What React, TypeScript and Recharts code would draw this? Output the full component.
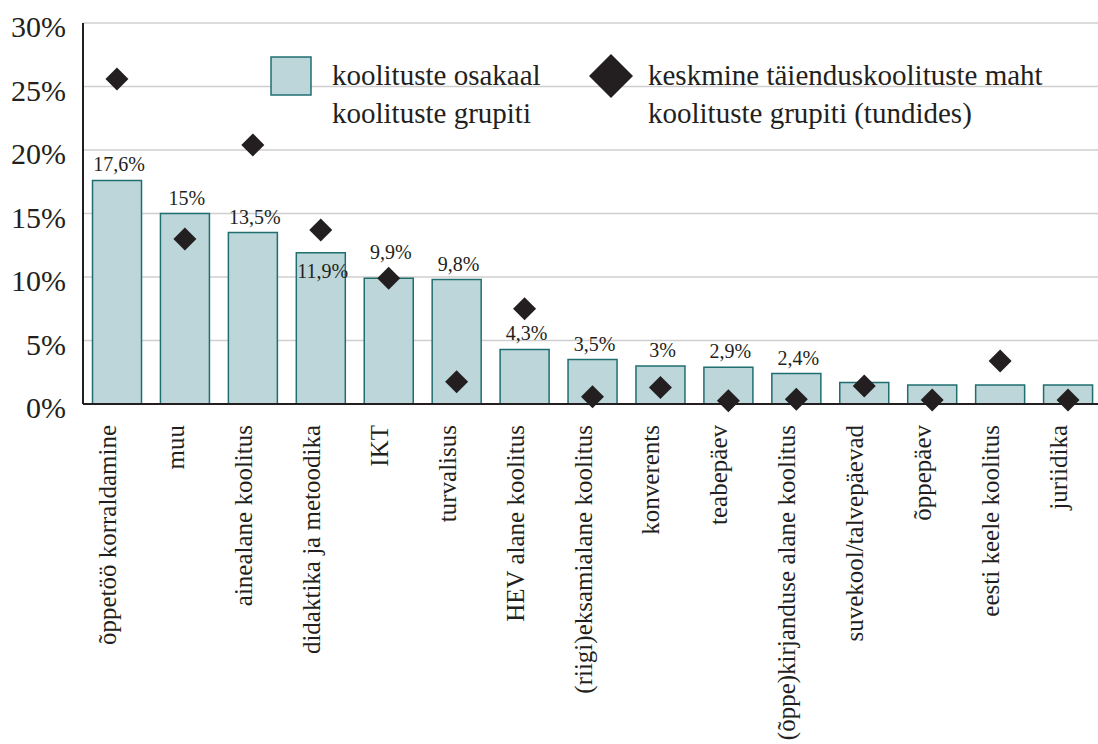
import React from "react";
import {
  ComposedChart,
  Bar,
  Scatter,
  XAxis,
  YAxis,
  CartesianGrid,
  LabelList,
} from "recharts";

const categories = [
  "õppetöö korraldamine",
  "muu",
  "ainealane koolitus",
  "didaktika ja metoodika",
  "IKT",
  "turvalisus",
  "HEV alane koolitus",
  "(riigi)eksamialane koolitus",
  "konverents",
  "teabepäev",
  "(õppe)kirjanduse alane koolitus",
  "suvekool/talvepäevad",
  "õppepäev",
  "eesti keele koolitus",
  "juriidika",
];

const shareValues = [17.6, 15, 13.5, 11.9, 9.9, 9.8, 4.3, 3.5, 3, 2.9, 2.4, 1.7, 1.5, 1.5, 1.5];
const hoursValues = [25.6, 13.0, 20.4, 13.7, 9.9, 1.75, 7.5, 0.57, 1.3, 0.26, 0.37, 1.42, 0.31, 3.38, 0.31];
const shareLabels = [
  "17,6%", "15%", "13,5%", "11,9%", "9,9%", "9,8%", "4,3%", "3,5%", "3%", "2,9%", "2,4%", "", "", "", "",
];
const yTicks = [0, 5, 10, 15, 20, 25, 30];

const legendShare = ["koolituste osakaal", "koolituste grupiti"];
const legendHours = ["keskmine täienduskoolituste maht", "koolituste grupiti (tundides)"];

const data = categories.map((name, i) => ({
  name,
  share: shareValues[i],
  hours: hoursValues[i],
  label: shareLabels[i],
}));

const FONT = "'Liberation Serif', 'DejaVu Serif', serif";
const INK = "#231f20";
const BAR_FILL = "#bdd6d9";
const BAR_STROKE = "#1f6e70";
const GRID = "#cfcfcf";

// label vertical nudges (style only), keyed by category
const LABEL_NUDGE: Record<string, number> = {
  "didaktika ja metoodika": 34,
  IKT: -10,
};

const Diamond = (props: any) => {
  const { cx, cy } = props;
  if (cx == null || cy == null) return null;
  const r = 11.5;
  return (
    <polygon
      points={`${cx},${cy - r} ${cx + r},${cy} ${cx},${cy + r} ${cx - r},${cy}`}
      fill={INK}
    />
  );
};

const YTick = (props: any) => {
  const { x, y, payload } = props;
  return (
    <text x={x} y={y + 14} textAnchor="end" fontFamily={FONT} fontSize={30} fill={INK}>
      {`${payload.value}%`}
    </text>
  );
};

const XTick = (props: any) => {
  const { x, y, payload } = props;
  return (
    <g transform={`translate(${x - 1},${y})`}>
      <text
        x={0}
        y={0}
        transform="rotate(-90)"
        textAnchor="end"
        fontFamily={FONT}
        fontSize={25}
        fill={INK}
      >
        {payload.value}
      </text>
    </g>
  );
};

const BarLabel = (props: any) => {
  const { x, y, width, value, index } = props;
  if (!value) return null;
  const name = categories[index];
  const nudge = LABEL_NUDGE[name] ?? 0;
  return (
    <text
      x={x + width / 2 + 2}
      y={y - 9 + nudge}
      textAnchor="middle"
      fontFamily={FONT}
      fontSize={20}
      fill={INK}
    >
      {value}
    </text>
  );
};

export default function App() {
  return (
    <div
      style={{
        position: "fixed",
        left: 0,
        top: 0,
        width: 1098,
        height: 744,
        overflow: "hidden",
        background: "#ffffff",
      }}
    >
      <ComposedChart
        width={1102}
        height={744}
        data={data}
        margin={{ top: 23, right: 0, bottom: 0, left: 0 }}
        barCategoryGap="14%"
      >
        <CartesianGrid vertical={false} stroke={GRID} strokeWidth={1.5} />
        <XAxis
          dataKey="name"
          type="category"
          interval={0}
          height={340}
          tickSize={0}
          tickMargin={21}
          tickLine={false}
          axisLine={{ stroke: INK, strokeWidth: 2 }}
          tick={<XTick />}
        />
        <YAxis
          type="number"
          domain={[0, 30]}
          ticks={yTicks}
          width={83}
          tickSize={0}
          tickMargin={17}
          tickLine={false}
          axisLine={{ stroke: INK, strokeWidth: 2 }}
          tick={<YTick />}
          interval={0}
        />
        <Bar
          dataKey="share"
          fill={BAR_FILL}
          stroke={BAR_STROKE}
          strokeWidth={1.5}
          isAnimationActive={false}
        >
          <LabelList dataKey="label" content={<BarLabel />} />
        </Bar>
        <Scatter dataKey="hours" shape={<Diamond />} isAnimationActive={false} />
      </ComposedChart>
      <svg
        width={1098}
        height={160}
        style={{ position: "absolute", left: 0, top: 0, pointerEvents: "none" }}
      >
        <rect x={271} y={57} width={40} height={38} fill={BAR_FILL} stroke={BAR_STROKE} strokeWidth={1.5} />
        {legendShare.map((t, i) => (
          <text key={t} x={332} y={85 + i * 38} fontFamily={FONT} fontSize={29} fill={INK}>
            {t}
          </text>
        ))}
        <polygon points="611,54 633,76 611,98 589,76" fill={INK} />
        {legendHours.map((t, i) => (
          <text key={t} x={648} y={85 + i * 38} fontFamily={FONT} fontSize={29} fill={INK}>
            {t}
          </text>
        ))}
      </svg>
    </div>
  );
}
